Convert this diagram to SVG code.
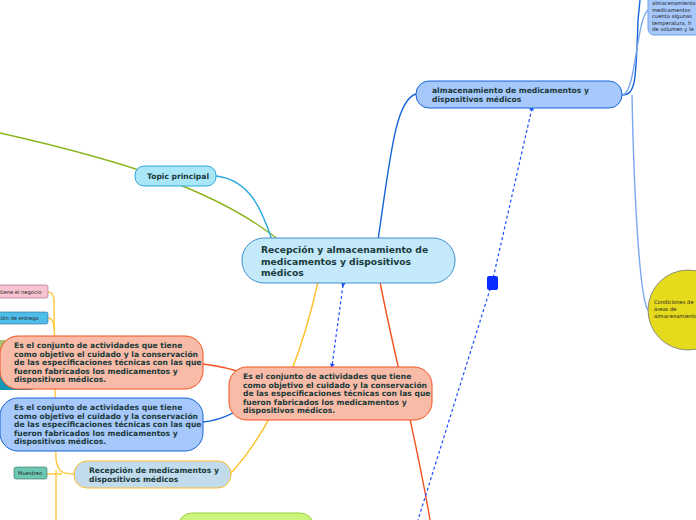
<svg xmlns="http://www.w3.org/2000/svg" width="696" height="520" viewBox="0 0 696 520">
<style>
text{font-family:Verdana,"DejaVu Sans",sans-serif;font-weight:bold;fill:#1a3a3a}
.s{font-size:7.6px}.t{font-size:5.2px;font-weight:normal;fill:#222}
.c{fill:none;stroke-width:1.4}
</style>
<defs>
<marker id="a" viewBox="0 0 6 6" refX="3" refY="3" markerWidth="4" markerHeight="4" orient="auto"><path d="M0,0L6,3L0,6z" fill="#1e4fff"/></marker>
</defs>
<g id="connectors">
<path class="c" d="M0,133 C120,160 220,190 285,245" stroke="#8ab51a"/>
<path class="c" d="M216,176 C250,180 262,210 272,240" stroke="#29a8df"/>
<path class="c" d="M378,240 C390,160 395,100 416,94" stroke="#1565d8"/>
<path class="c" d="M318,282 C305,340 280,420 230,474" stroke="#ffbf2a"/>
<path class="c" d="M380,282 C395,360 415,430 430,520" stroke="#f4511e"/>
<path class="c" d="M203,364 C220,366 230,368 245,374" stroke="#f4511e"/>
<path class="c" d="M203,422 C225,420 240,410 252,400" stroke="#1565d8"/>
<path class="c" d="M74,474 C60,474 58,470 56,460 L54,300 M56,470 L56,520 M46,474 L62,474" stroke="#ffc940" stroke-width="1"/>
<path class="c" d="M48,292 C52,292 54,296 54,302 M48,318 C52,318 54,322 54,330" stroke="#ffc940" stroke-width="1"/>
<path class="c" d="M622,95 C636,95 636,80 638,20 L640,0" stroke="#1565d8"/>
<path class="c" d="M622,95 C636,95 636,20 648,10" stroke="#7aa7f0" stroke-width="0.8"/>
<path class="c" d="M632,95 C634,200 640,300 648,310" stroke="#7aa7f0" stroke-width="0.8"/>
<path d="M343,285 L332,366" stroke="#1e4fff" stroke-width="1.2" stroke-dasharray="3,2.5" fill="none" marker-start="url(#a)" marker-end="url(#a)"/>
<path d="M492,283 L532,108" stroke="#1e4fff" stroke-width="1.2" stroke-dasharray="3,2.5" fill="none" marker-end="url(#a)"/>
<path d="M492,283 L418,520" stroke="#1e4fff" stroke-width="1.2" stroke-dasharray="3,2.5" fill="none"/>
<rect x="487" y="276" width="11" height="14" rx="2" fill="#0a2cff"/>
</g>
<g id="n-hidden"><rect x="-20" y="344" width="60" height="46" rx="10" fill="#1597b5"/><rect x="-20" y="340" width="40" height="12" fill="#a8c070"/></g>
<g id="n-center"><rect x="242" y="238" width="213" height="45" rx="22" fill="#c4e9fb" stroke="#3f8fcf"/>
<text x="261" y="253" font-size="9.2">Recepción y almacenamiento de</text><text x="261" y="265" font-size="9.2">medicamentos  y  dispositivos</text><text x="261" y="276" font-size="9.2">médicos</text></g>
<g id="n-topic"><rect x="135" y="166" width="81" height="20" rx="9" fill="#a8e6f8" stroke="#29a8df"/><text x="147" y="179" class="s">Topic principal</text></g>
<g id="n-alm"><rect x="416" y="81" width="206" height="27" rx="13" fill="#a7c8fb" stroke="#1565d8"/><text x="432" y="93" class="s">almacenamiento de medicamentos y</text><text x="432" y="102" class="s">dispositivos médicos</text></g>
<g id="n-alm2"><rect x="648" y="-10" width="60" height="45" rx="6" fill="#a7c8fb" stroke="#6f9de8"/>
<text class="t" x="652" y="5">almacenamiento</text><text class="t" x="652" y="12">medicamentos</text><text class="t" x="652" y="18">cuenta algunas</text><text class="t" x="652" y="25">temperatura,  h</text><text class="t" x="652" y="31">de volumen y le</text></g>
<g id="n-cond"><circle cx="688" cy="310" r="40" fill="#e5da1c" stroke="#777" stroke-width="0.8"/><text class="t" x="654" y="304">Condiciones de</text><text class="t" x="654" y="311">áreas de</text><text class="t" x="654" y="318">almacenamiento</text></g>
<g id="n-salmon"><rect x="229" y="367" width="203" height="53" rx="18" fill="#f8bba7" stroke="#f4511e"/>
<text class="s" x="243" y="379">Es el conjunto de actividades que tiene</text><text class="s" x="243" y="388">como objetivo el cuidado y la conservación</text><text class="s" x="243" y="396">de las especificaciones técnicas con las que</text><text class="s" x="243" y="405">fueron fabricados los medicamentos y</text><text class="s" x="243" y="413">dispositivos médicos.</text></g>
<g id="n-salmon2"><rect x="0" y="336" width="203" height="53" rx="18" fill="#f8bba7" stroke="#f4511e"/>
<text class="s" x="14" y="348">Es el conjunto de actividades que tiene</text><text class="s" x="14" y="357">como objetivo el cuidado y la conservación</text><text class="s" x="14" y="365">de las especificaciones técnicas con las que</text><text class="s" x="14" y="374">fueron fabricados los medicamentos y</text><text class="s" x="14" y="382">dispositivos médicos.</text></g>
<g id="n-blue2"><rect x="0" y="398" width="203" height="53" rx="18" fill="#a7c8fb" stroke="#1565d8"/>
<text class="s" x="14" y="410">Es el conjunto de actividades que tiene</text><text class="s" x="14" y="419">como objetivo el cuidado y la conservación</text><text class="s" x="14" y="427">de las especificaciones técnicas con las que</text><text class="s" x="14" y="436">fueron fabricados los medicamentos y</text><text class="s" x="14" y="444">dispositivos médicos.</text></g>
<g id="n-recep"><rect x="74" y="461" width="157" height="27" rx="13" fill="#c2dcee" stroke="#ffbf2a"/><text class="s" x="89" y="473">Recepción  de  medicamentos  y</text><text class="s" x="89" y="482">dispositivos  médicos</text></g>
<g id="n-neg"><rect x="-10" y="285" width="58" height="13" rx="2" fill="#f9c4d2" stroke="#a06070" stroke-width="0.6"/><text class="t" x="0" y="293.5">tiene el negocio</text></g>
<g id="n-ent"><rect x="-10" y="312" width="58" height="12" rx="2" fill="#4fbde9" stroke="#2a6a90" stroke-width="0.6"/><text class="t" x="-2" y="320">ción de entrega</text></g>
<g id="n-mue"><rect x="14" y="467" width="33" height="12" rx="2" fill="#6cc7b3" stroke="#2f6f60" stroke-width="0.6"/><text class="t" x="18" y="475">Muestreo</text></g>
<g id="n-green"><rect x="178" y="513" width="136" height="30" rx="14" fill="#ccf57e" stroke="#9ad13a"/></g>
</svg>
